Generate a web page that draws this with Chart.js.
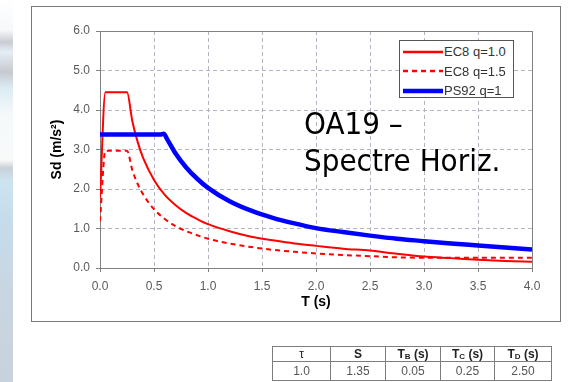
<!DOCTYPE html>
<html lang="fr">
<head>
<meta charset="utf-8">
<title>OA19 - Spectre Horiz.</title>
<script src="https://cdn.jsdelivr.net/npm/chart.js@4.4.0/dist/chart.umd.min.js"></script>
<style>
  html, body { margin: 0; padding: 0; background: #fff; }
  body { width: 571px; height: 382px; position: relative; overflow: hidden; font-family: "Liberation Sans", Arial, sans-serif; }
  #bande {
    position: absolute; left: 0; top: 0; width: 13px; height: 382px;
    background: linear-gradient(to bottom, #ffffff 0px, #f6f8fa 30px, #c9ccd2 42px, #e4eef4 52px, #c6cacf 72px,
      #dcebf4 88px, #f5f9fa 115px, #f8fafa 160px, #c9d1d8 168px, #cde3ef 180px, #c6dcea 220px, #c9d5e0 300px, #c8d2dc 382px);
  }
  #cadre { position: absolute; left: 31px; top: 6px; width: 528px; height: 314px; border: 1px solid #7a7a7a; }
  #graph { position: absolute; left: 0; top: 0; }
  #legende {
    position: absolute; left: 399px; top: 40px; width: 113px; height: 56px;
    border: 1px solid #555; background: #fff;
  }
  .ligne { position: absolute; left: 3px; height: 19px; display: flex; align-items: center; font-size: 13px; color: #333; white-space: nowrap; }
  .ligne svg { margin-right: 1px; }
  #titre {
    position: absolute; left: 304px; top: 105px; font-family: "DejaVu Sans Condensed", "DejaVu Sans", sans-serif;
    font-stretch: condensed; font-size: 31px; line-height: 37px; color: #000;
  }
  #tableau { position: absolute; left: 272px; top: 346px; border-collapse: collapse; font-size: 12px; }
  #tableau td { border: 1px solid #7d7d7d; padding: 0; text-align: center; }
  #tableau tr.entete td { height: 14px; font-weight: bold; color: #222; }
  #tableau tr.valeurs td { height: 18px; color: #555; }
  #tableau sub { font-size: 8px; vertical-align: -1px; }
</style>
</head>
<body>
<div id="bande"></div>
<div id="cadre"></div>
<canvas id="graph" width="571" height="382"></canvas>
<div id="legende"></div>
<div id="titre">OA19 –<br>Spectre Horiz.</div>
<table id="tableau">
  <tr class="entete"></tr>
  <tr class="valeurs"></tr>
</table>

<script>
// Données
const tEc8q1 = [0, 0.05, 0.25, 0.3, 0.35, 0.4, 0.5, 0.6, 0.7, 0.8, 0.9, 1.0, 1.2, 1.4, 1.6, 1.8, 2.0, 2.25, 2.5, 2.75, 3.0, 3.25, 3.5, 3.75, 4.0];
const sdEc8q1 = [1.78, 4.45, 4.45, 3.71, 3.18, 2.78, 2.23, 1.85, 1.59, 1.39, 1.24, 1.11, 0.93, 0.79, 0.70, 0.62, 0.56, 0.49, 0.44, 0.36, 0.29, 0.25, 0.21, 0.18, 0.16];

const tEc8q15 = [0, 0.05, 0.25, 0.3, 0.35, 0.4, 0.5, 0.6, 0.7, 0.8, 0.9, 1.0, 1.2, 1.4, 1.6, 1.8, 2.0, 2.25, 2.5, 2.75, 3.0, 3.5, 4.0];
const sdEc8q15 = [1.19, 2.97, 2.97, 2.47, 2.12, 1.86, 1.49, 1.24, 1.06, 0.93, 0.83, 0.74, 0.62, 0.53, 0.46, 0.41, 0.37, 0.33, 0.30, 0.27, 0.26, 0.26, 0.26];

const tPs92 = [0, 0.56, 0.59, 0.62, 0.7, 0.8, 0.9, 1.0, 1.2, 1.4, 1.6, 1.8, 2.0, 2.25, 2.5, 2.75, 3.0, 3.25, 3.5, 3.75, 4.0];
const sdPs92 = [3.38, 3.38, 3.40, 3.27, 2.90, 2.54, 2.26, 2.03, 1.69, 1.45, 1.27, 1.13, 1.01, 0.91, 0.82, 0.74, 0.68, 0.62, 0.57, 0.52, 0.47];

const nomsSeries = ["EC8 q=1.0", "EC8 q=1.5", "PS92 q=1"];
const couleurs = ["#ff0000", "#ff0000", "#0000ff"];

// Tableau des paramètres
const enteteTableau = ["τ", "S", "T<sub>B</sub> (s)", "T<sub>C</sub> (s)", "T<sub>D</sub> (s)"];
const valeursTableau = ["1.0", "1.35", "0.05", "0.25", "2.50"];
const largeursColonnes = [57, 54, 54, 53, 56];

const points = (xs, ys) => xs.map((x, i) => ({ x: x, y: ys[i] }));

// Légende en HTML
const styles = [
  { width: 2.5, dash: "" },
  { width: 2.5, dash: "5 4" },
  { width: 4.5, dash: "" },
];
const legende = document.getElementById("legende");
nomsSeries.forEach((nom, i) => {
  const div = document.createElement("div");
  div.className = "ligne";
  div.style.top = (1 + i * 19.5) + "px";
  div.innerHTML = `<svg width="40" height="8"><line x1="0" y1="4" x2="40" y2="4" stroke="${couleurs[i]}"
    stroke-width="${styles[i].width}" stroke-dasharray="${styles[i].dash}"/></svg><span>${nom}</span>`;
  legende.appendChild(div);
});

// Remplissage du tableau
const entete = document.querySelector("#tableau tr.entete");
const valeurs = document.querySelector("#tableau tr.valeurs");
enteteTableau.forEach((txt, i) => {
  const td = document.createElement("td");
  td.style.width = largeursColonnes[i] + "px";
  td.innerHTML = txt;
  if (i === 0) td.style.fontWeight = "normal";
  entete.appendChild(td);
});
valeursTableau.forEach((txt) => {
  const td = document.createElement("td");
  td.textContent = txt;
  valeurs.appendChild(td);
});

// Cadre de la zone de tracé (haut et droite)
const cadreZone = {
  id: "cadreZone",
  beforeDatasetsDraw(chart) {
    const { ctx, chartArea } = chart;
    ctx.save();
    ctx.strokeStyle = "#808080";
    ctx.lineWidth = 1;
    ctx.beginPath();
    ctx.moveTo(chartArea.left, chartArea.top + 0.5);
    ctx.lineTo(chartArea.right + 0.5, chartArea.top + 0.5);
    ctx.lineTo(chartArea.right + 0.5, chartArea.bottom);
    ctx.stroke();
    ctx.restore();
  },
};

const policeGraduation = { family: "'Liberation Sans', Arial, sans-serif", size: 12 };

new Chart(document.getElementById("graph"), {
  type: "line",
  data: {
    datasets: [
      {
        label: nomsSeries[0],
        data: points(tEc8q1, sdEc8q1),
        borderColor: couleurs[0],
        borderWidth: 2,
        order: 1,
      },
      {
        label: nomsSeries[1],
        data: points(tEc8q15, sdEc8q15),
        borderColor: couleurs[1],
        borderWidth: 2,
        borderDash: [5, 4],
        order: 2,
      },
      {
        label: nomsSeries[2],
        data: points(tPs92, sdPs92),
        borderColor: couleurs[2],
        borderWidth: 4.5,
        order: 0,
      },
    ],
  },
  options: {
    responsive: false,
    animation: false,
    devicePixelRatio: 1,
    elements: {
      point: { radius: 0 },
      line: { cubicInterpolationMode: "monotone", fill: false },
    },
    layout: { padding: { left: 0, top: 31, right: 39, bottom: 62 } },
    plugins: { legend: { display: false }, tooltip: { enabled: false } },
    scales: {
      x: {
        type: "linear",
        min: 0,
        max: 4,
        afterFit: (s) => { s.height = 52; },
        ticks: {
          stepSize: 0.5,
          padding: 7,
          color: "#5a5a5a",
          font: policeGraduation,
          maxRotation: 0,
          callback: (v) => v.toFixed(1),
        },
        grid: {
          color: "#b4b4c2",
          tickLength: 4,
          tickColor: "#808080",
          tickBorderDash: [1, 0],
        },
        border: { color: "#808080", width: 1, dash: [4, 3] },
        title: {
          display: true,
          text: "T (s)",
          color: "#000",
          font: { family: "'Liberation Sans', Arial, sans-serif", size: 14, weight: "bold" },
          padding: { top: 0, bottom: 9 },
        },
      },
      y: {
        min: 0,
        max: 6,
        afterFit: (s) => { s.width = 100; },
        ticks: {
          stepSize: 1,
          padding: 6,
          color: "#5a5a5a",
          font: policeGraduation,
          callback: (v) => v.toFixed(1),
        },
        grid: {
          color: "#b4b4c2",
          tickLength: 4,
          tickColor: "#808080",
          tickBorderDash: [1, 0],
        },
        border: { color: "#808080", width: 1, dash: [4, 3] },
        title: {
          display: true,
          text: "Sd (m/s²)",
          color: "#000",
          font: { family: "'Liberation Sans', Arial, sans-serif", size: 14, weight: "bold" },
          padding: { top: 49, bottom: 0 },
        },
      },
    },
  },
  plugins: [cadreZone],
});
</script>
</body>
</html>
